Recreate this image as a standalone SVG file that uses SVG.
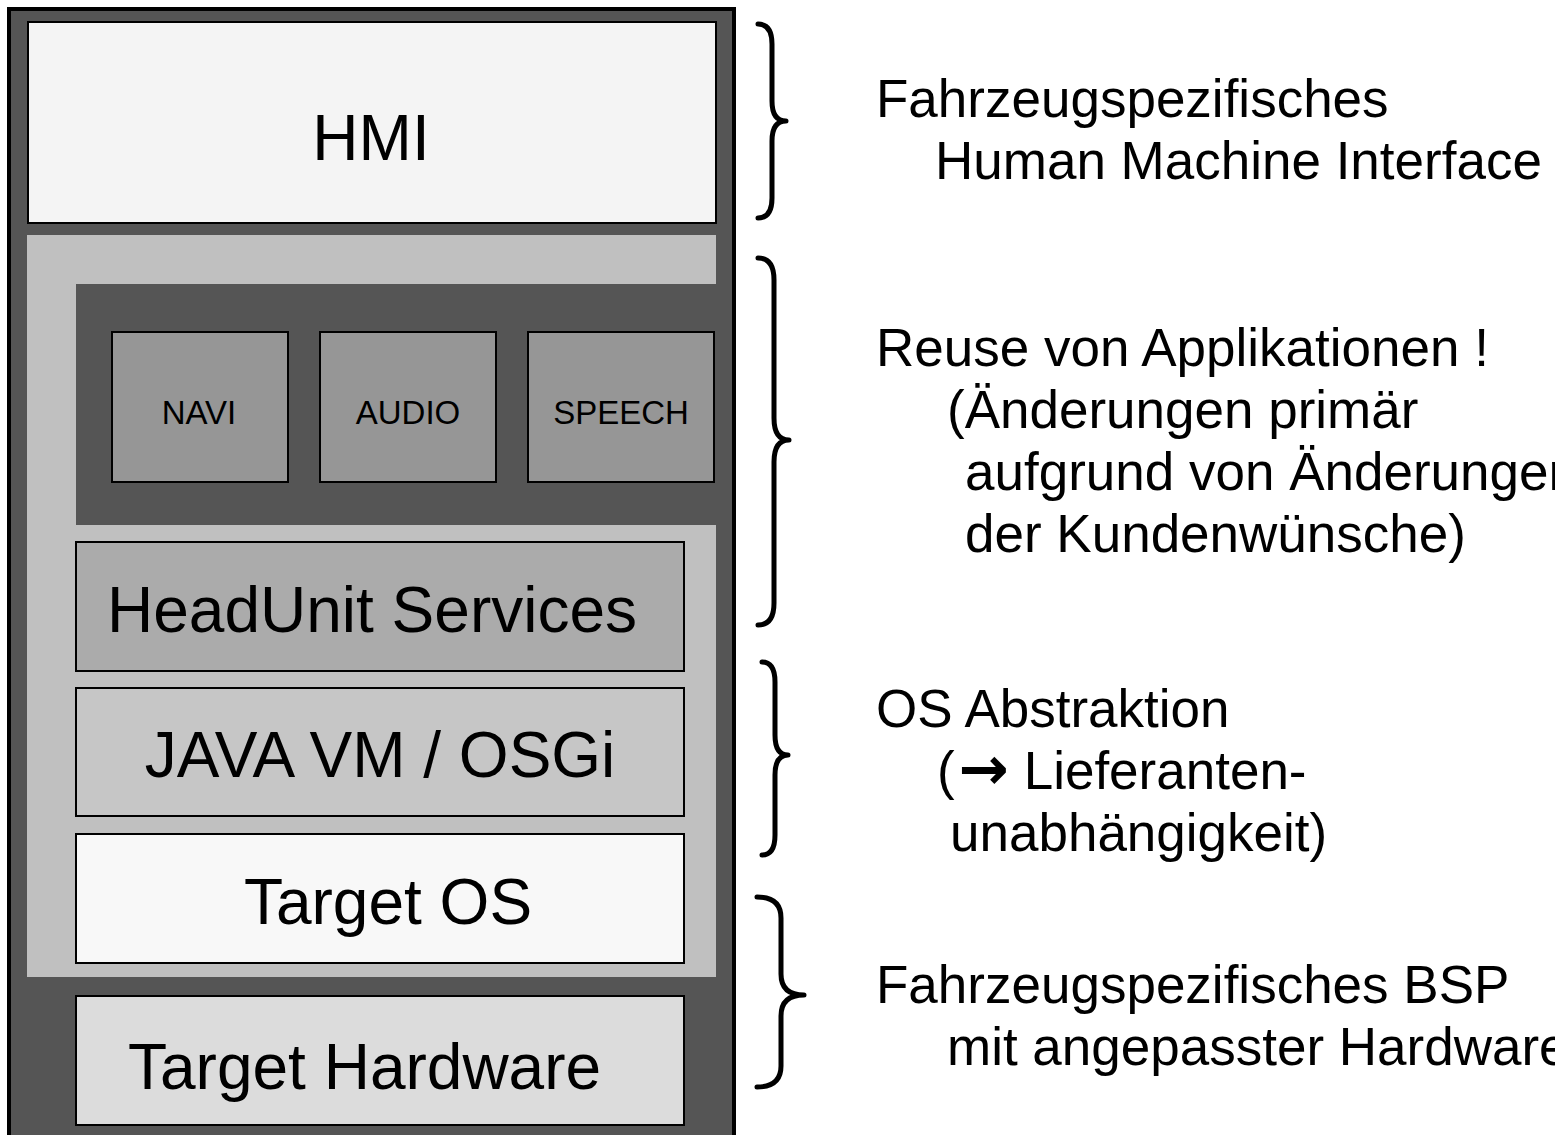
<svg xmlns="http://www.w3.org/2000/svg" width="1555" height="1135" viewBox="0 0 1555 1135">
<style>
  text { font-family: "Liberation Sans", Arial, sans-serif; fill: #000; }
  .box { stroke: #000; stroke-width: 2; }
  .big { font-size: 64px; }
  .small { font-size: 33px; text-anchor: middle; }
  .note { font-size: 53px; }
  .arrow { font-family: "DejaVu Sans", sans-serif; font-weight: bold; font-size: 60px; }
  .brace { fill: none; stroke: #000; stroke-width: 5; stroke-linecap: round; stroke-linejoin: round; }
</style>
<rect width="1555" height="1135" fill="#fff"/>
<g id="frame">
  <rect x="9" y="9" width="725" height="1140" fill="#555555" stroke="#000" stroke-width="4"/>
</g>
<g id="hmi">
  <rect class="box" x="28" y="22" width="688" height="201" fill="#f4f4f4"/>
  <text class="big" x="371" y="160" text-anchor="middle">HMI</text>
</g>
<g id="platform">
  <rect x="27" y="235" width="689" height="742" fill="#c0c0c0"/>
</g>
<g id="applications">
  <rect x="76" y="284" width="640" height="241" fill="#555555"/>
</g>
<g id="navi">
  <rect class="box" x="112" y="332" width="176" height="150" fill="#969696"/>
  <text class="small" x="199" y="424">NAVI</text>
</g>
<g id="audio">
  <rect class="box" x="320" y="332" width="176" height="150" fill="#969696"/>
  <text class="small" x="408" y="424">AUDIO</text>
</g>
<g id="speech">
  <rect class="box" x="528" y="332" width="186" height="150" fill="#969696"/>
  <text class="small" x="621" y="424">SPEECH</text>
</g>
<g id="headunit">
  <rect class="box" x="76" y="542" width="608" height="129" fill="#ababab"/>
  <text class="big" x="107" y="632">HeadUnit Services</text>
</g>
<g id="javavm">
  <rect class="box" x="76" y="688" width="608" height="128" fill="#c6c6c6"/>
  <text class="big" x="380" y="777" text-anchor="middle">JAVA VM / OSGi</text>
</g>
<g id="targetos">
  <rect class="box" x="76" y="834" width="608" height="129" fill="#f8f8f8"/>
  <text class="big" x="388" y="924" text-anchor="middle">Target OS</text>
</g>
<g id="hardware">
  <rect class="box" x="76" y="996" width="608" height="129" fill="#dcdcdc"/>
  <text class="big" x="128" y="1089">Target Hardware</text>
</g>
<g id="connectors">
  <path class="brace" d="M758,24 Q772,24 772,44 L772,101 Q772,121 786,121 Q772,121 772,141 L772,198 Q772,218 758,218"/>
  <path class="brace" d="M758,258 Q774,258 774,280 L774,418 Q774,440 789,440 Q774,440 774,462 L774,603 Q774,625 758,625"/>
  <path class="brace" d="M762,662 Q775,662 775,682 L775,735 Q775,755 788,755 Q775,755 775,775 L775,835 Q775,855 762,855"/>
  <path class="brace" d="M757,897 Q781,897 781,918 L781,974 Q781,995 804,995 Q781,995 781,1016 L781,1066 Q781,1087 757,1087"/>
</g>
<g id="notes">
  <text class="note" x="876" y="117">Fahrzeugspezifisches</text>
  <text class="note" x="935" y="179">Human Machine Interface</text>
  <text class="note" x="876" y="366">Reuse von Applikationen !</text>
  <text class="note" x="947" y="428">(Änderungen primär</text>
  <text class="note" x="965" y="490">aufgrund von Änderungen</text>
  <text class="note" x="965" y="552">der Kundenwünsche)</text>
  <text class="note" x="876" y="727">OS Abstraktion</text>
  <text class="note" x="937" y="789">(<tspan class="arrow" dx="4">→</tspan> Lieferanten-</text>
  <text class="note" x="950" y="851">unabhängigkeit)</text>
  <text class="note" x="876" y="1003">Fahrzeugspezifisches BSP</text>
  <text class="note" x="947" y="1065">mit angepasster Hardware</text>
</g>
</svg>
